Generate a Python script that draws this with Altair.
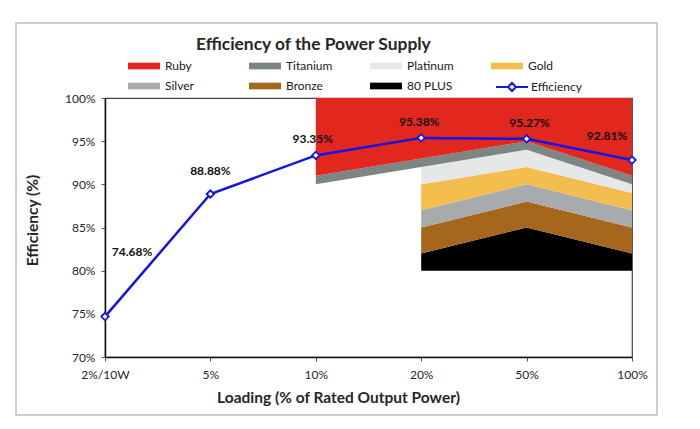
import altair as alt
import pandas as pd

# ---- data -------------------------------------------------------------
loads = ["2%/10W", "5%", "10%", "20%", "50%", "100%"]
efficiency = [74.68, 88.88, 93.35, 95.38, 95.27, 92.81]

# certification thresholds (lower edge of each band)
std_loads = ["20%", "50%", "100%"]
base_80 = [80, 80, 80]
bronze = [82, 85, 82]
silver = [85, 88, 85]
gold = [87, 90, 87]
platinum = [90, 92, 89]
top_loads = ["10%", "20%", "50%", "100%"]
titanium = [90, 92, 94, 90]
ruby = [91, 93, 95, 91]
ceiling = [100, 100, 100, 100]

# legend fills column by column: (Ruby, Silver), (Titanium, Bronze), (Platinum, 80 PLUS), (Gold)
band_names = ["Ruby", "Silver", "Titanium", "Bronze", "Platinum", "80 PLUS", "Gold"]
band_colors = ["#E1271E", "#A7ABAE", "#7D8682", "#A6661B", "#E6E7E8", "#000000", "#F3BE4E"]
line_name = ["Efficiency"]
line_color = ["#1414E6"]

# ---- tables -----------------------------------------------------------
def band(name, xs, lo, hi):
    return [dict(band=name, idx=loads.index(x), lo=l, hi=h) for x, l, h in zip(xs, lo, hi)]

titanium_std = titanium[1:]
rows = []
rows += band("80 PLUS", std_loads, base_80, bronze)
rows += band("Bronze", std_loads, bronze, silver)
rows += band("Silver", std_loads, silver, gold)
rows += band("Gold", std_loads, gold, platinum)
rows += band("Platinum", std_loads, platinum, titanium_std)
rows += band("Titanium", top_loads, titanium, ruby)
rows += band("Ruby", top_loads, ruby, ceiling)
bands_df = pd.DataFrame(rows)

eff_df = pd.DataFrame({"idx": list(range(len(loads))), "load": loads,
                       "eff": efficiency, "series": line_name[0]})

FONT = "Lato"
label_array = "[" + ",".join("'" + s + "'" for s in loads) + "]"

xscale = alt.Scale(domain=[0, len(loads) - 1], nice=False, zero=False)
yscale = alt.Scale(domain=[70, 100], nice=False, zero=False)

xaxis = alt.Axis(values=list(range(len(loads))), labelExpr=label_array + "[datum.value]",
                 title="Loading (% of Rated Output Power)", grid=False, labelFlush=False,
                 tickSize=4, labelPadding=8, titlePadding=10, titleX=233)
yaxis = alt.Axis(values=[70, 75, 80, 85, 90, 95, 100], labelExpr="datum.value + '%'",
                 title="Efficiency (%)", grid=False, tickSize=4, labelPadding=6, titlePadding=24,
                 titleY=122)

sym_rect = "M-3.2,-0.67H3.2V0.67H-3.2Z"
sym_line = "M-3.2,0H-0.8M0.8,0H3.2M0,-0.8L0.8,0L0,0.8L-0.8,0Z"

band_legend = alt.Legend(
    title=None, orient="none", legendX=33, legendY=-38, columns=4, gridAlign="all",
    columnPadding=37, rowPadding=8, symbolSize=100, labelOffset=15, symbolType=sym_rect,
    symbolStrokeWidth=0, symbolOpacity=1,
    labelFont=FONT, labelFontSize=12, labelColor="#1a1a1a",
)
line_legend = alt.Legend(
    title=None, orient="none", legendX=401, legendY=-17, symbolSize=100, labelOffset=13,
    symbolType=sym_line, symbolStrokeWidth=2, symbolFillColor="white", symbolOpacity=1,
    labelFont=FONT, labelFontSize=12, labelColor="#1a1a1a",
)

areas = alt.Chart(bands_df).mark_area(opacity=1, interpolate="linear").encode(
    x=alt.X("idx:Q", scale=xscale, axis=xaxis),
    y=alt.Y("lo:Q", scale=yscale, axis=yaxis),
    y2="hi:Q",
    color=alt.Color("band:N", scale=alt.Scale(domain=band_names, range=band_colors),
                    legend=band_legend),
)

line = alt.Chart(eff_df).mark_line(strokeWidth=2.5).encode(
    x=alt.X("idx:Q", scale=xscale),
    y=alt.Y("eff:Q", scale=yscale),
    stroke=alt.Stroke("series:N", scale=alt.Scale(domain=line_name, range=line_color),
                      legend=line_legend),
)

points = alt.Chart(eff_df).mark_point(shape="diamond", filled=True, fill="white", stroke=line_color[0],
                                      strokeWidth=1.8, size=55, opacity=1).encode(
    x=alt.X("idx:Q", scale=xscale),
    y=alt.Y("eff:Q", scale=yscale),
)

label_style = {0: (27, -65), 1: (0, -23), 2: (-3, -16), 3: (-2, -16), 4: (3, -16), 5: (-25, -24)}
texts = []
for i, (dx, dy) in label_style.items():
    texts.append(
        alt.Chart(eff_df).transform_filter(f"datum.idx == {i}")
        .transform_calculate(txt="format(datum.eff, '.2f') + '%'")
        .mark_text(font=FONT, fontSize=12, fontWeight="bold", color="#111111", dx=dx, dy=dy,
                   baseline="middle", align="center")
        .encode(x=alt.X("idx:Q", scale=xscale), y=alt.Y("eff:Q", scale=yscale), text="txt:N")
    )

frame = alt.Chart(pd.DataFrame({"k": [0]})).mark_rect(
    fill="transparent", stroke="#BFBFBF", strokeWidth=1.5, clip=False).encode(
    x=alt.value(-89), x2=alt.value(552), y=alt.value(-75), y2=alt.value(317))

chart = alt.layer(frame, areas, line, points, *texts).resolve_legend(
    color="independent", stroke="independent"
).properties(
    width=527, height=259,
    background="white",
    padding={"left": 97, "top": 90, "right": 60, "bottom": 64},
    autosize=alt.AutoSizeParams(type="none"),
    title=alt.TitleParams("Efficiency of the Power Supply", anchor="start", frame="group",
                          dx=91, dy=35, offset=4, font=FONT, fontSize=17.4, fontWeight="bold",
                          color="#262626"),
).configure_view(stroke="#444444", strokeWidth=1.2).configure_axis(
    labelFont=FONT, labelFontSize=12, labelColor="#262626",
    titleFont=FONT, titleFontSize=15.5, titleFontWeight="bold", titleColor="#262626",
    domainColor="#111111", domainWidth=1.5, tickColor="#555555",
)

chart.save("out.html", embed_options={"renderer": "svg", "actions": False})
